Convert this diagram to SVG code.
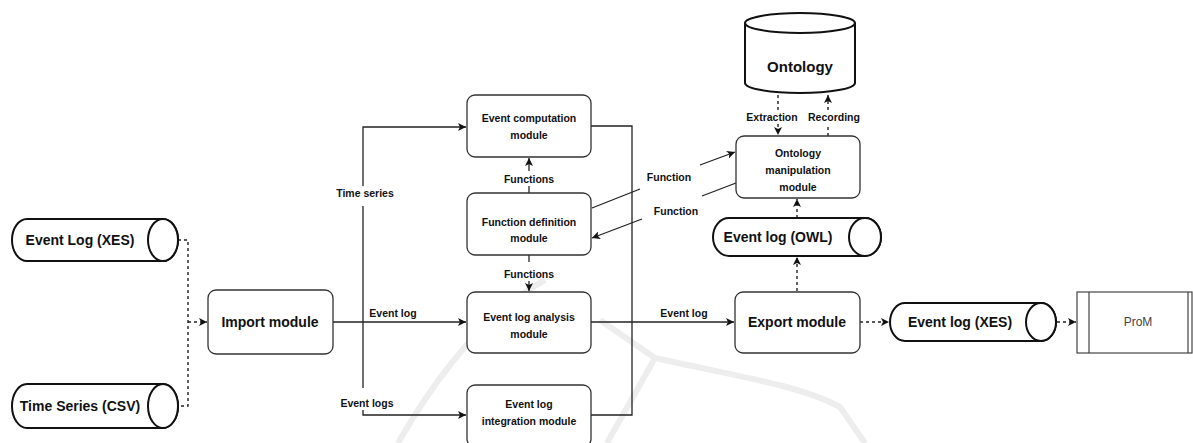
<svg xmlns="http://www.w3.org/2000/svg" width="1193" height="443" viewBox="0 0 1193 443">
<defs>
<style>
.box{fill:#fff;stroke:#333;stroke-width:1.3}
.cyl{fill:#fff;stroke:#111;stroke-width:2}
.ln{fill:none;stroke:#222;stroke-width:1.3}
.dash{fill:none;stroke:#222;stroke-width:1.4;stroke-dasharray:3 3}
.t{font-family:"Liberation Sans",Arial,sans-serif;font-weight:bold;fill:#111;text-anchor:middle}
.s{font-size:10.5px}
.b{font-size:14px}
.wm{fill:none;stroke:#ededed;stroke-width:6}
</style>
<marker id="arr" markerUnits="userSpaceOnUse" markerWidth="9" markerHeight="8" refX="8" refY="4" orient="auto">
<path d="M0,0 L8,4 L0,8 L2,4 Z" fill="#111"/>
</marker>
</defs>
<rect width="1193" height="443" fill="#fff"/>
<g id="watermark">
<path class="wm" d="M398 443 C 440 370, 490 310, 545 280"/>
<path class="wm" d="M655 358 L 607 443"/>
<path class="wm" d="M655 358 C 730 375, 800 385, 840 407 L 865 443"/>
<path class="wm" d="M655 358 L 600 320"/>
</g>
<g id="connectors">
<path class="dash" d="M178 240 H188 V406 H178"/>
<path class="dash" d="M188 322 H207" marker-end="url(#arr)"/>
<path class="ln" d="M333 322 H466" marker-end="url(#arr)"/>
<path class="ln" d="M363 186 V127 H466" marker-end="url(#arr)"/>
<path class="ln" d="M363 206 V388"/>
<path class="ln" d="M363 410 V415 H466" marker-end="url(#arr)"/>
<path class="ln" d="M591 126 H632 V415 H591"/>
<path class="ln" d="M591 322 H734" marker-end="url(#arr)"/>
<path class="ln" d="M529 193 V186"/>
<path class="ln" d="M529 171 V158" marker-end="url(#arr)"/>
<path class="ln" d="M529 255 V262"/>
<path class="ln" d="M529 281 V291" marker-end="url(#arr)"/>
<path class="ln" d="M592 208 L640 189"/>
<path class="ln" d="M700 165 L735 152" marker-end="url(#arr)"/>
<path class="ln" d="M736 183 L702 196"/>
<path class="ln" d="M642 219 L592 238" marker-end="url(#arr)"/>
<path class="dash" d="M778 95 V110"/>
<path class="dash" d="M778 124 V135" marker-end="url(#arr)"/>
<path class="dash" d="M828 136 V124"/>
<path class="dash" d="M828 110 V95" marker-end="url(#arr)"/>
<path class="dash" d="M797 218 V199" marker-end="url(#arr)"/>
<path class="dash" d="M797 291 V257" marker-end="url(#arr)"/>
<path class="dash" d="M860 322 H889" marker-end="url(#arr)"/>
<path class="dash" d="M1057 322 H1076" marker-end="url(#arr)"/>
<text class="t s" x="393" y="317">Event log</text>
<text class="t s" x="365" y="197">Time series</text>
<text class="t s" x="367" y="407">Event logs</text>
<text class="t s" x="684" y="317">Event log</text>
<text class="t s" x="529" y="183">Functions</text>
<text class="t s" x="529" y="278">Functions</text>
<text class="t s" x="669" y="181">Function</text>
<text class="t s" x="676" y="215">Function</text>
<text class="t s" x="772" y="121">Extraction</text>
<text class="t s" x="834" y="121">Recording</text>
</g>
<g id="event-log-xes-in">
<path class="cyl" d="M27 219 H163 A15 21 0 0 1 163 261 H27 A15 21 0 0 1 27 219 Z"/>
<ellipse class="cyl" cx="163" cy="240" rx="15" ry="21"/>
<text class="t b" x="80" y="245">Event Log (XES)</text>
</g>
<g id="time-series-csv">
<path class="cyl" d="M27 384 H163 A15 22 0 0 1 163 428 H27 A15 22 0 0 1 27 384 Z"/>
<ellipse class="cyl" cx="163" cy="406" rx="15" ry="22"/>
<text class="t b" x="80" y="411">Time Series (CSV)</text>
</g>
<g id="import-module">
<rect class="box" x="208" y="290" width="125" height="64" rx="8"/>
<text class="t b" x="270" y="327">Import module</text>
</g>
<g id="event-computation-module">
<rect class="box" x="467" y="95" width="124" height="62" rx="8"/>
<text class="t s" x="529" y="122">Event computation</text>
<text class="t s" x="529" y="139">module</text>
</g>
<g id="function-definition-module">
<rect class="box" x="467" y="193" width="124" height="62" rx="8"/>
<text class="t s" x="529" y="226">Function definition</text>
<text class="t s" x="529" y="242">module</text>
</g>
<g id="event-log-analysis-module">
<rect class="box" x="467" y="292" width="124" height="61" rx="8"/>
<text class="t s" x="529" y="321">Event log analysis</text>
<text class="t s" x="529" y="338">module</text>
</g>
<g id="event-log-integration-module">
<rect class="box" x="467" y="385" width="124" height="62" rx="8"/>
<text class="t s" x="529" y="408">Event log</text>
<text class="t s" x="529" y="425">integration module</text>
</g>
<g id="ontology">
<path class="cyl" d="M745 23 A55 10 0 0 1 855 23 V83 A55 10 0 0 1 745 83 Z"/>
<path class="cyl" d="M745 23 A55 10 0 0 0 855 23"/>
<text class="t" x="800" y="72" style="font-size:15px">Ontology</text>
</g>
<g id="ontology-manipulation-module">
<rect class="box" x="736" y="136" width="124" height="62" rx="8"/>
<text class="t s" x="798" y="157">Ontology</text>
<text class="t s" x="798" y="174">manipulation</text>
<text class="t s" x="798" y="191">module</text>
</g>
<g id="event-log-owl">
<path class="cyl" d="M729 218 H865 A16 19 0 0 1 865 256 H729 A16 19 0 0 1 729 218 Z"/>
<ellipse class="cyl" cx="865" cy="237" rx="16" ry="19"/>
<text class="t b" x="778" y="242">Event log (OWL)</text>
</g>
<g id="export-module">
<rect class="box" x="735" y="292" width="125" height="61" rx="8"/>
<text class="t b" x="797" y="327">Export module</text>
</g>
<g id="event-log-xes-out">
<path class="cyl" d="M905 303 H1041 A15 19 0 0 1 1041 341 H905 A15 19 0 0 1 905 303 Z"/>
<ellipse class="cyl" cx="1041" cy="322" rx="15" ry="19"/>
<text class="t b" x="960" y="327">Event log (XES)</text>
</g>
<g id="prom">
<rect x="1077" y="292" width="115" height="61" fill="#fff" stroke="#444" stroke-width="1.2"/>
<line x1="1089" y1="292" x2="1089" y2="353" stroke="#444" stroke-width="1.2"/>
<line x1="1188" y1="292" x2="1188" y2="353" stroke="#444" stroke-width="1.2"/>
<text x="1138" y="326" style="font-family:'Liberation Sans',Arial,sans-serif;font-size:12px;fill:#444;text-anchor:middle">ProM</text>
</g>
</svg>
